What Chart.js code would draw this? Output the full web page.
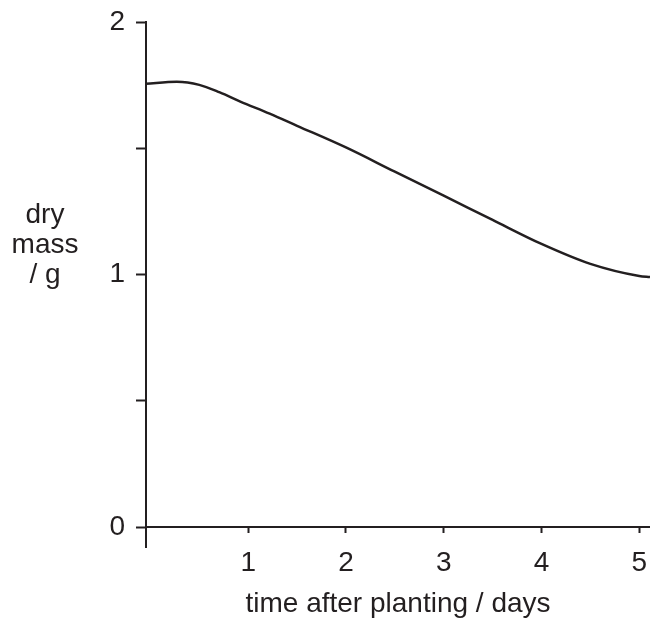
<!DOCTYPE html>
<html>
<head>
<meta charset="utf-8">
<script src="https://cdn.jsdelivr.net/npm/chart.js@4/dist/chart.umd.min.js"></script>
<style>
html,body{margin:0;padding:0;background:#fff}
#wrap{width:650px;height:623px}
</style>
</head>
<body>
<div id="wrap"><canvas id="massChart"></canvas></div>
<script>
// values
let days = [-0.045, 0.27, 0.5, 0.71, 0.92, 1.22, 1.5, 2, 2.5, 3, 3.5, 4, 4.5, 5, 5.11]
let dryMass = [1.755, 1.763, 1.751, 1.721, 1.685, 1.637, 1.589, 1.503, 1.407, 1.312, 1.216, 1.121, 1.042, 0.994, 0.99]

let xTicks = [1, 2, 3, 4, 5]
let yTicks = [0, 0.5, 1, 1.5, 2]
let yLabels = ["0", "", "1", "", "2"]
let yTitle = ["dry", "mass", "/ g"]
let xTitle = "time after planting / days"

let ink = "#231f20"
let font = "'Liberation Sans', Arial, sans-serif"

let points = []
for(let i=0;i<days.length;i++){
points.push({x:days[i], y:dryMass[i]})
}

// y axis title drawn flat, and the y axis line running on below the x axis
let extras = {
id:"extras",
afterDraw(chart){
let ctx = chart.ctx
let area = chart.chartArea
ctx.save()
ctx.strokeStyle = ink
ctx.lineWidth = 2
ctx.beginPath()
ctx.moveTo(area.left, area.bottom)
ctx.lineTo(area.left, area.bottom + 21)
ctx.stroke()
ctx.fillStyle = ink
ctx.font = "28px " + font
ctx.textAlign = "center"
ctx.textBaseline = "alphabetic"
for(let i=0;i<yTitle.length;i++){
ctx.fillText(yTitle[i], 45, 223 + i*30)
}
ctx.restore()
}
}

new Chart(document.getElementById("massChart"),{
type:"line",
data:{
datasets:[{
data:points,
borderColor:ink,
borderWidth:2.5,
pointRadius:0,
cubicInterpolationMode:"monotone",
fill:false,
clip:false
}]
},
options:{
responsive:true,
maintainAspectRatio:false,
animation:false,
layout:{padding:{top:22, right:0, bottom:0, left:0}},
plugins:{legend:{display:false}, tooltip:{enabled:false}},
scales:{
x:{
type:"linear",
min:-0.045,
max:5.11,
afterFit(scale){
scale.height = 96
scale.paddingLeft = 0
scale.paddingRight = 0
},
afterBuildTicks(scale){ scale.ticks = xTicks.map(v => ({value:v})) },
grid:{drawOnChartArea:false, tickLength:6, tickWidth:2, tickColor:ink},
border:{display:true, color:ink, width:2},
ticks:{color:ink, padding:13, font:{family:font, size:28}, maxRotation:0,
callback:(v) => String(v)},
title:{display:true, text:xTitle, color:ink, font:{family:font, size:28},
padding:{top:0, bottom:2}}
},
y:{
min:0,
max:2,
afterFit(scale){
scale.width = 146
scale.paddingTop = 0
scale.paddingBottom = 0
},
afterBuildTicks(scale){ scale.ticks = yTicks.map(v => ({value:v})) },
grid:{drawOnChartArea:false, tickLength:10, tickWidth:2, tickColor:ink},
border:{display:true, color:ink, width:2},
ticks:{color:ink, padding:11, font:{family:font, size:28},
callback:(v) => yLabels[yTicks.indexOf(v)]}
}
}
},
plugins:[extras]
})
</script>
</body>
</html>
